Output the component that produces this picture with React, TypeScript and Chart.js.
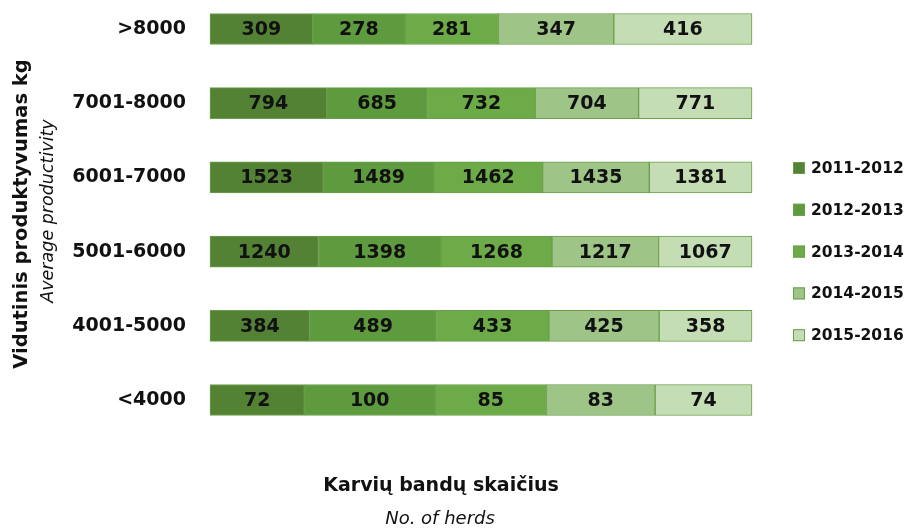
import React, { useEffect, useRef } from "react";
import { Chart, registerables } from "chart.js";

Chart.register(...registerables);

const categories = [">8000", "7001-8000", "6001-7000", "5001-6000", "4001-5000", "<4000"];
const seriesNames = ["2011-2012", "2012-2013", "2013-2014", "2014-2015", "2015-2016"];
const s2011 = [309, 794, 1523, 1240, 384, 72];
const s2012 = [278, 685, 1489, 1398, 489, 100];
const s2013 = [281, 732, 1462, 1268, 433, 85];
const s2014 = [347, 704, 1435, 1217, 425, 83];
const s2015 = [416, 771, 1381, 1067, 358, 74];
const seriesValues = [s2011, s2012, s2013, s2014, s2015];
const seriesColors = ["#548235", "#5E9A3E", "#6DAB48", "#9FC488", "#C5DDB5"];
const borderGreen = "#6A9F4A";

const yTitle = "Vidutinis produktyvumas kg";
const ySubtitle = "Average productivity";
const xTitle = "Karvių bandų skaičius";
const xSubtitle = "No. of herds";

const FONT = "'DejaVu Sans', sans-serif";

const totals = categories.map((_, i) => seriesValues.reduce((s, arr) => s + arr[i], 0));

const labelsPlugin = {
  id: "segmentLabels",
  afterDatasetsDraw(chart: any) {
    const ctx = chart.ctx;
    ctx.save();
    ctx.font = `bold 19px ${FONT}`;
    ctx.fillStyle = "#111";
    ctx.textAlign = "center";
    ctx.textBaseline = "middle";
    chart.data.datasets.forEach((ds: any, di: number) => {
      const meta = chart.getDatasetMeta(di);
      meta.data.forEach((el: any, i: number) => {
        const p = el.getProps(["x", "base", "y"], true);
        ctx.fillText(String(ds.raw[i]), (p.x + p.base) / 2, p.y + 1);
      });
    });
    ctx.restore();
  },
};

const decorPlugin = {
  id: "decor",
  afterDraw(chart: any) {
    const ctx = chart.ctx;
    ctx.save();
    ctx.fillStyle = "#111";
    ctx.textAlign = "center";
    ctx.textBaseline = "middle";
    // x titles
    ctx.font = `bold 19px ${FONT}`;
    ctx.fillText(xTitle, 441, 486);
    ctx.font = `italic 18px ${FONT}`;
    ctx.fillText(xSubtitle, 440, 519);
    // y titles
    ctx.save();
    ctx.translate(22, 214);
    ctx.rotate(-Math.PI / 2);
    ctx.font = `bold 19.5px ${FONT}`;
    ctx.fillText(yTitle, 0, 0);
    ctx.restore();
    ctx.save();
    ctx.translate(48, 211);
    ctx.rotate(-Math.PI / 2);
    ctx.font = `italic 17.5px ${FONT}`;
    ctx.fillText(ySubtitle, 0, 0);
    ctx.restore();
    // legend
    ctx.textAlign = "left";
    ctx.font = `bold 15.5px ${FONT}`;
    chart.data.datasets.forEach((ds: any, i: number) => {
      const cy = 168 + i * 41.8;
      ctx.fillStyle = ds.backgroundColor;
      ctx.fillRect(793, cy - 6, 12, 12);
      ctx.strokeStyle = borderGreen;
      ctx.lineWidth = 1;
      ctx.strokeRect(793.5, cy - 5.5, 11, 11);
      ctx.fillStyle = "#111";
      ctx.fillText(ds.label, 811, cy + 1);
    });
    ctx.restore();
  },
};

export default function App() {
  const ref = useRef<HTMLCanvasElement | null>(null);
  useEffect(() => {
    if (!ref.current) return;
    const chart = new Chart(ref.current, {
      type: "bar",
      data: {
        labels: categories,
        datasets: seriesNames.map((name, si) => ({
          label: name,
          raw: seriesValues[si],
          data: seriesValues[si].map((v, i) => (v / totals[i]) * 100),
          backgroundColor: seriesColors[si],
          borderColor: borderGreen,
          borderWidth: 1,
          borderSkipped: false,
          barThickness: 31,
          clip: false,
        })) as any,
      },
      options: {
        indexAxis: "y",
        responsive: false,
        animation: false,
        layout: { padding: { top: 29, bottom: 129, left: 0, right: 154 } },
        plugins: { legend: { display: false }, tooltip: { enabled: false } },
        scales: {
          x: { stacked: true, min: 0, max: 100, display: false },
          y: {
            stacked: true,
            offset: false,
            grid: { display: false, drawTicks: false },
            border: { display: false },
            ticks: {
              color: "#111",
              padding: 24,
              font: { family: FONT, size: 19, weight: "bold" },
            },
            afterFit: (s: any) => {
              s.width = 210;
              s.paddingTop = 0;
              s.paddingBottom = 0;
            },
          },
        },
      },
      plugins: [labelsPlugin, decorPlugin],
    });
    return () => chart.destroy();
  }, []);
  return (
    <div style={{ position: "absolute", left: 0, top: 0, width: 906, height: 529, background: "#fff" }}>
      <canvas ref={ref} width={906} height={529} />
    </div>
  );
}
